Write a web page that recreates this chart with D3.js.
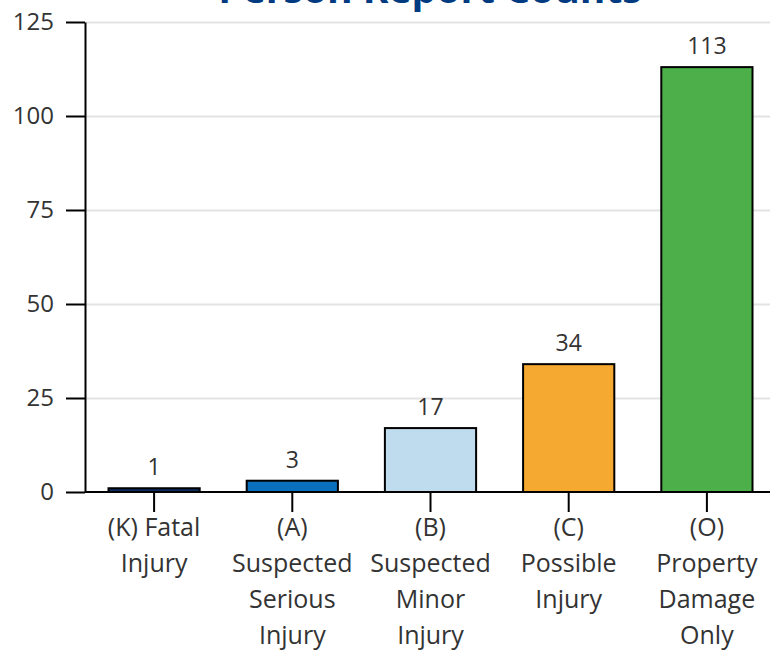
<!DOCTYPE html>
<html>
<head>
<meta charset="utf-8">
<script src="https://cdn.jsdelivr.net/npm/d3@7"></script>
<style>
  body { margin: 0; background: #fff; }
  text { font-family: "Open Sans", Lato, sans-serif; fill: #333; }
  .grid line { stroke: #e3e3e3; stroke-width: 2; }
  .grid path { display: none; }
  .axis path, .axis line { stroke: #000; stroke-width: 2; }
</style>
</head>
<body>
<script>
// Chart data
var categories = ["(K) Fatal Injury", "(A) Suspected Serious Injury", "(B) Suspected Minor Injury", "(C) Possible Injury", "(O) Property Damage Only"];
var labelLines = [
  ["(K) Fatal", "Injury"],
  ["(A)", "Suspected", "Serious", "Injury"],
  ["(B)", "Suspected", "Minor", "Injury"],
  ["(C)", "Possible", "Injury"],
  ["(O)", "Property", "Damage", "Only"]
];
var counts = [1, 3, 17, 34, 113];
var barColors = ["#0c2b5c", "#0a70bb", "#bedcee", "#f6a930", "#4caf4a"];
var yTicks = [0, 25, 50, 75, 100, 125];

var svgWidth = 770;
var svgHeight = 650;
var margin = { top: 22, right: -6, bottom: 158, left: 85 };
var width = svgWidth - margin.left - margin.right;
var height = svgHeight - margin.top - margin.bottom;

var svg = d3.select("body")
  .append("svg")
  .attr("width", svgWidth)
  .attr("height", svgHeight);

// Title (sits partly above the top edge, as in the original)
svg.append("text")
  .attr("x", 430)
  .attr("y", 3)
  .attr("text-anchor", "middle")
  .style("font-size", "39px")
  .style("font-weight", "bold")
  .style("fill", "#003a80")
  .text("Person Report Counts");

var chartGroup = svg.append("g")
  .attr("transform", `translate(${margin.left}, ${margin.top})`);

var xScale = d3.scaleBand()
  .domain(categories)
  .range([0, width])
  .paddingInner(0.34)
  .paddingOuter(0.17);

var yScale = d3.scaleLinear()
  .domain([0, 125])
  .range([height, 0]);

// Gridlines
chartGroup.append("g")
  .attr("class", "grid")
  .call(d3.axisLeft(yScale).tickValues(yTicks.filter(d => d > 0)).tickSize(-(svgWidth - margin.left)).tickFormat(""));

// Bars
chartGroup.selectAll(".bar")
  .data(counts)
  .enter()
  .append("rect")
  .attr("x", (d, i) => xScale(categories[i]))
  .attr("y", d => yScale(d))
  .attr("width", xScale.bandwidth())
  .attr("height", d => height - yScale(d))
  .attr("fill", (d, i) => barColors[i])
  .attr("stroke", "#000")
  .attr("stroke-width", 2);

// Value labels
chartGroup.selectAll(".val")
  .data(counts)
  .enter()
  .append("text")
  .attr("x", (d, i) => xScale(categories[i]) + xScale.bandwidth() / 2)
  .attr("y", d => yScale(d) - 13)
  .attr("text-anchor", "middle")
  .style("font-size", "23px")
  .text(d => d);

// Y axis
var yAxis = chartGroup.append("g")
  .attr("class", "axis")
  .call(d3.axisLeft(yScale).tickValues(yTicks).tickSize(19).tickPadding(12).tickSizeOuter(0));
yAxis.selectAll("text").style("font-size", "24px").style("fill", "#333");

// X axis
var xAxis = chartGroup.append("g")
  .attr("class", "axis")
  .attr("transform", `translate(0, ${height})`)
  .call(d3.axisBottom(xScale).tickSize(20).tickSizeOuter(0).tickFormat(""));
xAxis.select("path").attr("d", `M0,0H${svgWidth - margin.left}`);

xAxis.selectAll(".tick")
  .append("text")
  .attr("text-anchor", "middle")
  .style("font-size", "25px")
  .style("fill", "#333")
  .each(function (d, i) {
    var t = d3.select(this);
    labelLines[i].forEach(function (line, j) {
      t.append("tspan")
        .attr("x", 0)
        .attr("y", 44 + j * 36)
        .text(line);
    });
  });
</script>
</body>
</html>
